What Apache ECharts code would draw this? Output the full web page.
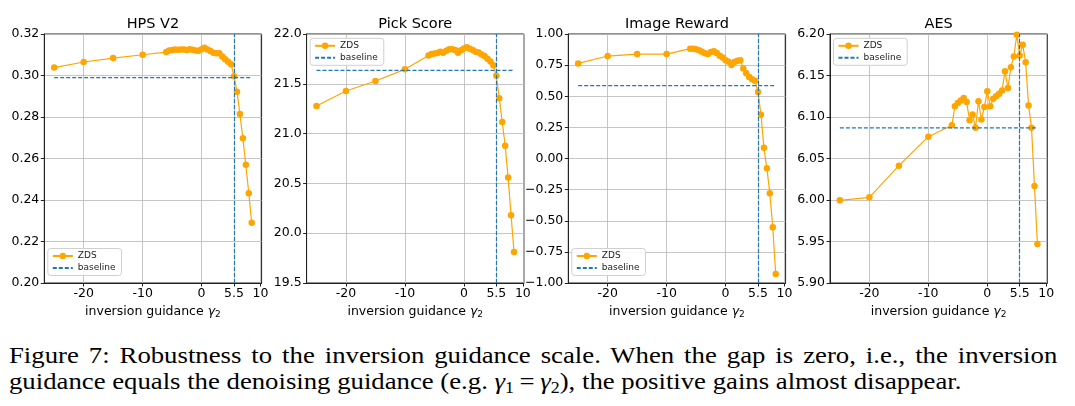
<!DOCTYPE html>
<html>
<head>
<meta charset="utf-8">
<script src="https://cdn.jsdelivr.net/npm/echarts@6/dist/echarts.min.js"></script>
<style>
  html, body { margin: 0; padding: 0; background: #fff; }
  #chart { position: absolute; left: 0; top: 0; width: 1075px; height: 332px; }
  #caption {
    position: absolute; left: 9px; top: 342px; width: 941px;
    font-family: "Liberation Serif", "DejaVu Serif", serif;
    font-size: 24px; line-height: 26px; color: #000;
    transform: scaleX(1.114); transform-origin: 0 0;
    white-space: nowrap;
  }
  #caption .l1 { text-align: justify; text-align-last: justify; white-space: normal; }
  #caption sub { font-size: 16px; line-height: 0; vertical-align: -4px; }
  #caption .eq { padding: 0 5px; }
</style>
</head>
<body>
<div id="chart"></div>
<div id="caption"><div class="l1">Figure 7: Robustness to the inversion guidance scale. When the gap is zero, i.e., the inversion</div><div class="l2">guidance equals the denoising guidance (e.g. <i>γ</i><sub>1</sub><span class="eq">=</span><i>γ</i><sub>2</sub>), the positive gains almost disappear.</div></div>
<script>
// ---- data ----
const titles = ['HPS V2', 'Pick Score', 'Image Reward', 'AES'];
const xVals = [-25, -20, -15, -10, -6, -5.5, -5, -4.5, -4, -3.5, -3, -2.5, -2, -1.5, -1, -0.5, 0, 0.5, 1, 1.5, 2, 2.5, 3, 3.5, 4, 4.5, 5, 5.5, 6, 6.5, 7, 7.5, 8, 8.5];
const xTicks = [-20, -10, 0, 5.5, 10];
const hps = [0.3038, 0.3065, 0.3084, 0.3100, 0.3113, 0.3120, 0.3123, 0.3125, 0.3124, 0.3125, 0.3125, 0.3123, 0.3126, 0.3124, 0.3120, 0.3119, 0.3126, 0.3134, 0.3125, 0.3118, 0.3110, 0.3107, 0.3107, 0.3091, 0.3078, 0.3066, 0.3054, 0.2996, 0.2922, 0.2814, 0.2697, 0.2570, 0.2433, 0.2290];
const pick = [21.277, 21.428, 21.528, 21.645, 21.785, 21.800, 21.805, 21.808, 21.822, 21.812, 21.832, 21.846, 21.848, 21.840, 21.812, 21.838, 21.855, 21.868, 21.852, 21.840, 21.822, 21.815, 21.795, 21.780, 21.752, 21.725, 21.685, 21.580, 21.354, 21.116, 20.879, 20.558, 20.179, 19.811];
const imageReward = [0.764, 0.823, 0.839, 0.839, 0.882, 0.882, 0.878, 0.870, 0.858, 0.845, 0.840, 0.856, 0.862, 0.848, 0.826, 0.812, 0.790, 0.778, 0.752, 0.775, 0.786, 0.790, 0.722, 0.684, 0.655, 0.636, 0.625, 0.534, 0.352, 0.087, -0.079, -0.280, -0.553, -0.928];
const aes = [5.9996, 6.0032, 6.0414, 6.0763, 6.090, 6.113, 6.117, 6.120, 6.123, 6.118, 6.096, 6.103, 6.087, 6.119, 6.097, 6.112, 6.131, 6.113, 6.122, 6.125, 6.128, 6.132, 6.155, 6.135, 6.160, 6.173, 6.199, 6.174, 6.187, 6.166, 6.114, 6.087, 6.017, 5.947];
const baselines = [0.299, 21.634, 0.585, 6.087];
const baselineX = 5.5;
const yMins = [0.20, 19.5, -1.00, 5.90];
const yMaxs = [0.32, 22.0, 1.00, 6.20];
const yIntervals = [0.02, 0.5, 0.25, 0.05];
const yDecimals = [2, 1, 2, 2];
const legendAtBottom = [true, false, true, false];
const allSeries = [hps, pick, imageReward, aes];

// ---- layout ----
const gridLefts = [44.3, 306.6, 568.3, 830.0];
const gridTop = 34, gridHeight = 249, gridWidth = 217.3;
const xMin = -26.675, xMax = 10.175;
const ORANGE = '#FFA500', BLUE = '#1f77b4';
const FONT = 'DejaVu Sans';

const option = {
  animation: false,
  backgroundColor: '#fff',
  title: [], grid: [], xAxis: [], yAxis: [], series: [], legend: []
};

titles.forEach((t, i) => {
  option.title.push({
    text: t, left: gridLefts[i] + gridWidth / 2, top: 17, textAlign: 'center', padding: 0,
    textStyle: { fontFamily: FONT, fontSize: 14.5, fontWeight: 'normal', color: '#000' }
  });
  option.grid.push({
    left: gridLefts[i], top: gridTop, width: gridWidth, height: gridHeight,
    show: true, borderColor: '#222', borderWidth: 1, backgroundColor: 'transparent'
  });
  option.xAxis.push({
    type: 'value', gridIndex: i, min: xMin, max: xMax,
    name: 'inversion guidance {g|γ}{s|2}', nameLocation: 'middle', nameGap: 19,
    nameTextStyle: {
      fontFamily: FONT, fontSize: 12.5, color: '#000',
      rich: {
        g: { fontFamily: FONT, fontSize: 12.5, fontStyle: 'italic', color: '#000' },
        s: { fontFamily: FONT, fontSize: 9, color: '#000', padding: [6, 0, 0, 0] }
      }
    },
    axisLine: { show: true, onZero: false, lineStyle: { color: '#222', width: 1 } },
    axisTick: { show: true, length: 3.5, customValues: xTicks, lineStyle: { color: '#222' } },
    axisLabel: {
      customValues: xTicks, fontFamily: FONT, fontSize: 12.5, color: '#000', margin: 4,
      formatter: v => String(v)
    },
    splitLine: { show: true, lineStyle: { color: '#b8b8b8', width: 0.8 } }
  });
  option.yAxis.push({
    type: 'value', gridIndex: i, min: yMins[i], max: yMaxs[i], interval: yIntervals[i],
    axisLine: { show: true, onZero: false, lineStyle: { color: '#222', width: 1 } },
    axisTick: { show: true, length: 3.5, lineStyle: { color: '#222' } },
    axisLabel: {
      fontFamily: FONT, fontSize: 12.5, color: '#000', margin: 5,
      formatter: v => { const s = Number(v).toFixed(yDecimals[i]); return s.replace('-', '\u2212'); }
    },
    splitLine: { show: true, lineStyle: { color: '#b8b8b8', width: 0.8 } }
  });
  const vals = allSeries[i];
  option.series.push({
    name: 'ZDS', type: 'line', xAxisIndex: i, yAxisIndex: i,
    data: xVals.map((x, k) => [x, vals[k]]),
    symbol: 'circle', symbolSize: 6.5, showSymbol: true,
    lineStyle: { color: ORANGE, width: 1.2 },
    itemStyle: { color: ORANGE, borderWidth: 0 },
    z: 3
  });
  option.series.push({
    name: 'baseline', type: 'line', xAxisIndex: i, yAxisIndex: i,
    data: [[xVals[0], baselines[i]], [xVals[xVals.length - 1], baselines[i]]],
    symbol: 'none', showSymbol: false,
    lineStyle: { color: BLUE, width: 1.2, type: [4, 2] },
    itemStyle: { color: BLUE },
    markLine: {
      silent: true, symbol: 'none', label: { show: false },
      lineStyle: { color: BLUE, width: 1.2, type: [4, 2] },
      data: [{ xAxis: baselineX }]
    },
    z: 4
  });
  option.legend.push({
    data: ['ZDS', { name: 'baseline', itemStyle: { opacity: 0 } }], orient: 'vertical',
    left: gridLefts[i] + 3.5,
    top: legendAtBottom[i] ? 248.5 : 38.3,
    itemWidth: 20, itemHeight: 8, itemGap: 3, padding: [3, 6, 3, 4],
    backgroundColor: 'rgba(255,255,255,0.85)', borderColor: '#d0d0d0', borderWidth: 1, borderRadius: 3,
    textStyle: { fontFamily: FONT, fontSize: 9, color: '#222' },
    selectedMode: false
  });
});

const chart = echarts.init(document.getElementById('chart'), null, { renderer: 'canvas' });
chart.setOption(option);
</script>
</body>
</html>
